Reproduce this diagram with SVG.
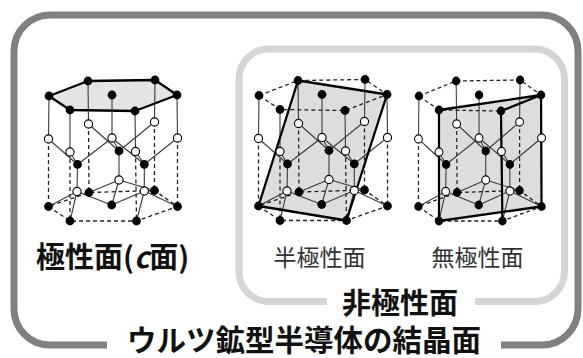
<svg xmlns="http://www.w3.org/2000/svg" width="583" height="358" viewBox="0 0 583 358">
<style>
  .ln{stroke:#3a3a3a;stroke-width:1.1;fill:none}
  .ds{stroke:#222;stroke-width:1.3;stroke-dasharray:4 3;fill:none}
  .ab{fill:#000}
  .aw{fill:#fff;stroke:#000;stroke-width:1.1}
  .edge{stroke:#000;stroke-width:2.3;fill:none;stroke-linejoin:round;stroke-linecap:round}
  .face{fill:#e4e4e4;stroke:#000;stroke-width:2.3;stroke-linejoin:round}
  .plane{fill:#d2d2d2;fill-opacity:0.75}
  .frame{fill:none}
  .lbl{font-family:"Noto Sans CJK JP","Noto Sans",sans-serif;text-anchor:middle}
</style>
<defs>
  <!-- wurtzite lattice: bonds and hidden prism edges -->
  <g id="bonds">
    <path class="ds" d="M48.5,139V206.5 M70,152V221 M135.5,151.5L136.5,221 M177.5,138V206.5 M154.5,122V190.5 M88.5,124L89,192.5"/>
    <path class="ds" d="M48.5,206.5L70,221L136.5,221L177.5,206.5L154.5,190.5L89,192.5Z"/>
    <path class="ln" d="M49,96L48.5,139 M70,110V152 M135,111L135.5,151.5 M177,95L177.5,138 M155,80L154.5,122 M88,81L88.5,124 M112,95V138 M119,151V180 M77.5,164.5L77,191.5 M144.3,164.3V191"/>
    <path class="ln" d="M112,138L119,151 M88.5,124L119,151 M154.5,122L119,151 M112,138L77.5,164.5 M48.5,139L77.5,164.5 M70,152L77.5,164.5 M112,138L144.3,164.3 M177.5,138L144.3,164.3 M135.5,151.5L144.3,164.3 M119,180L111.7,205 M119,180L89,192.5 M119,180L154.5,190.5 M77,191.5L111.7,205 M77,191.5L48.5,206.5 M77,191.5L70,221 M144.3,191L111.7,205 M144.3,191L177.5,206.5 M144.3,191L136.5,221"/>
  </g>
  <!-- atoms: black = cation, white = anion -->
  <g id="atoms">
    <circle class="ab" cx="88" cy="81" r="4.4"/>
    <circle class="ab" cx="155" cy="80" r="4.4"/>
    <circle class="ab" cx="49" cy="96" r="4.4"/>
    <circle class="ab" cx="112" cy="95" r="4.4"/>
    <circle class="ab" cx="177" cy="95" r="4.4"/>
    <circle class="ab" cx="70" cy="110" r="4.4"/>
    <circle class="ab" cx="135" cy="111" r="4.4"/>
    <circle class="aw" cx="88.5" cy="124" r="4.1"/>
    <circle class="aw" cx="154.5" cy="122" r="4.1"/>
    <circle class="aw" cx="48.5" cy="139" r="4.1"/>
    <circle class="aw" cx="112" cy="138" r="4.1"/>
    <circle class="aw" cx="177.5" cy="138" r="4.1"/>
    <circle class="aw" cx="70" cy="152" r="4.1"/>
    <circle class="aw" cx="135.5" cy="151.5" r="4.1"/>
    <circle class="ab" cx="119" cy="151" r="4.4"/>
    <circle class="ab" cx="77.5" cy="164.5" r="4.4"/>
    <circle class="ab" cx="144.3" cy="164.3" r="4.4"/>
    <circle class="aw" cx="119" cy="180" r="4.1"/>
    <circle class="aw" cx="77" cy="191.5" r="4.1"/>
    <circle class="aw" cx="144.3" cy="191" r="4.1"/>
    <circle class="ab" cx="89" cy="192.5" r="4.4"/>
    <circle class="ab" cx="154.5" cy="190.5" r="4.4"/>
    <circle class="ab" cx="48.5" cy="206.5" r="4.4"/>
    <circle class="ab" cx="111.7" cy="205" r="4.4"/>
    <circle class="ab" cx="177.5" cy="206.5" r="4.4"/>
    <circle class="ab" cx="70" cy="221" r="4.4"/>
    <circle class="ab" cx="136.5" cy="221" r="4.4"/>
  </g>
  <path id="tophex" d="M49,96L88,81L155,80L177,95L135,111L70,110Z"/>
</defs>

<!-- outer and inner frames -->
<g id="frames">
  <path class="frame" stroke="#808080" stroke-width="7" d="M107,345H50A36,36 0 0 1 14,309V51A36,36 0 0 1 50,15H542A36,36 0 0 1 578,51V309A36,36 0 0 1 542,345H501"/>
  <path class="frame" stroke="#d5d5d5" stroke-width="7" d="M327,301.5H269A30,30 0 0 1 239,271.5V79A30,30 0 0 1 269,49H534.5A30,30 0 0 1 564.5,79V271.5A30,30 0 0 1 534.5,301.5H475"/>
</g>

<!-- polar c-plane -->
<g id="polar">
  <path class="face" d="M49,96L88,81L155,80L177,95L135,111L70,110Z"/>
  <use href="#bonds"/>
  <use href="#atoms"/>
</g>

<!-- semipolar plane -->
<g id="semipolar" transform="translate(210,-0.5)">
  <path class="plane" d="M88,81L177,95L136.5,221L48.5,206.5Z"/>
  <use href="#tophex" class="ds"/>
  <use href="#bonds"/>
  <path class="edge" d="M88,81L177,95L136.5,221L48.5,206.5Z"/>
  <use href="#atoms"/>
</g>

<!-- nonpolar plane -->
<g id="nonpolar" transform="translate(372.2,0) scale(0.954,1)">
  <path class="plane" d="M70,110L177,95L177.5,206.5L70,221Z"/>
  <use href="#tophex" class="ds"/>
  <use href="#bonds"/>
  <path class="edge" d="M70,110L177,95L177.5,206.5L70,221Z M135,111L177,95 M135,111L136.5,221"/>
  <use href="#atoms"/>
</g>

<!-- labels -->
<g id="labels">
  <text class="lbl" x="36" y="268" font-size="29" font-weight="bold" fill="#111" style="text-anchor:start">極性面(<tspan font-style="italic">c</tspan>面)</text>
  <text class="lbl" x="319.5" y="266" font-size="23" fill="#333">半極性面</text>
  <text class="lbl" x="477.5" y="266" font-size="23" fill="#333">無極性面</text>
  <text class="lbl" x="400" y="314" font-size="29" font-weight="bold" fill="#111">非極性面</text>
  <text class="lbl" x="304" y="350.5" font-size="29.5" font-weight="bold" fill="#111">ウルツ鉱型半導体の結晶面</text>
</g>
</svg>
